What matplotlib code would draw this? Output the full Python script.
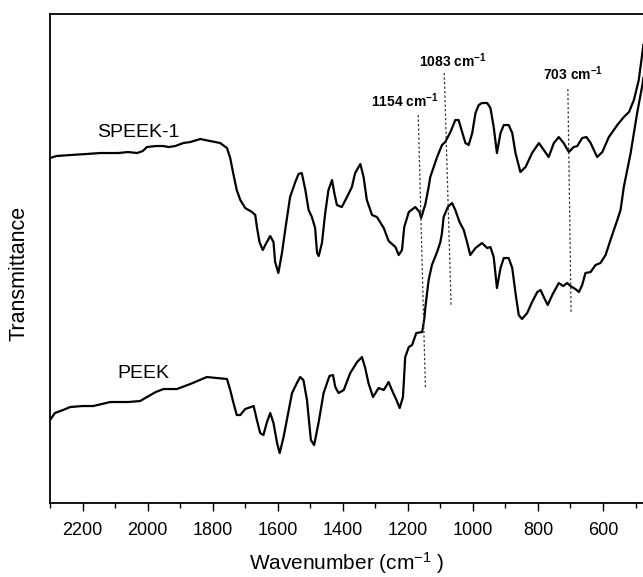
import matplotlib
matplotlib.use('Agg')
import matplotlib.pyplot as plt
from matplotlib.ticker import MultipleLocator, NullLocator

plt.rcParams['font.family'] = ['Liberation Sans', 'DejaVu Sans']
plt.rcParams['mathtext.fontset'] = 'custom'
plt.rcParams['mathtext.rm'] = 'Liberation Sans'
plt.rcParams['mathtext.bf'] = 'Liberation Sans:bold'
plt.rcParams['mathtext.it'] = 'Liberation Sans:italic'
plt.rcParams['mathtext.default'] = 'rm'

# ---------------- data ----------------
speek_wn = [2300, 2280, 2238, 2190, 2146, 2090, 2060, 2032, 2015, 2002, 1975, 1952,
            1935, 1915, 1890, 1869, 1838, 1808, 1777, 1756,
            1746, 1737, 1726, 1715, 1700, 1679, 1669, 1664, 1656, 1646, 1635, 1623,
            1613, 1608, 1598, 1587, 1577, 1562, 1546, 1536, 1526, 1515, 1505, 1495,
            1485, 1479, 1474, 1464, 1454, 1444, 1433, 1426, 1418, 1403, 1387, 1372,
            1362, 1346, 1336, 1326, 1310, 1295, 1274, 1259, 1238, 1228, 1218, 1211,
            1197, 1177, 1164, 1159, 1146, 1136, 1131, 1110, 1095, 1085, 1069, 1054,
            1044, 1033, 1023, 1013, 1002, 992, 982, 972, 956, 946, 936, 926, 915,
            905, 890, 879, 869, 854, 838, 818, 797, 782, 767, 751, 736, 721, 705,
            690, 679, 664, 651, 638, 618, 602, 582, 556, 536, 520, 505, 490, 479, 476]
speek_t = [345, 347, 348, 349, 350, 350, 351, 350, 352, 356, 357, 357,
           356, 357, 360, 361, 364, 362, 360, 355,
           345, 330, 313, 303, 295, 291, 288, 276, 261, 253, 260, 267,
           261, 241, 230, 250, 273, 306, 321, 329, 330, 313, 293, 286,
           275, 250, 247, 260, 290, 313, 323, 310, 298, 296, 306, 316,
           330, 339, 326, 303, 288, 286, 275, 262, 256, 248, 253, 276,
           291, 296, 291, 285, 299, 316, 326, 346, 358, 361, 371, 383,
           383, 371, 360, 358, 370, 390, 398, 400, 400, 395, 376, 350, 370,
           378, 378, 370, 350, 331, 336, 350, 360, 353, 346, 360, 366, 360, 351,
           356, 357, 365, 366, 360, 346, 351, 366, 378, 386, 391, 403, 423, 450, 458]

peek_wn = [2300, 2285, 2260, 2238, 2200, 2167, 2115, 2060, 2023, 2002, 1975, 1951,
           1910, 1869, 1818, 1756,
           1746, 1736, 1726, 1715, 1700, 1674, 1664, 1654, 1644, 1633, 1623, 1613,
           1602, 1594, 1582, 1572, 1556, 1541, 1531, 1521, 1510, 1505, 1498, 1488,
           1474, 1459, 1441, 1430, 1423, 1413, 1397, 1377, 1356, 1341, 1331, 1321,
           1307, 1290, 1274, 1259, 1249, 1235, 1225, 1215, 1208, 1197, 1187, 1174,
           1156, 1149, 1146, 1136, 1126, 1110, 1100, 1095, 1090, 1077, 1064, 1054,
           1041, 1028, 1018, 1008, 992, 972, 956, 946, 936, 926, 915, 905, 890,
           879, 869, 859, 849, 833, 818, 802, 792, 782, 770, 756, 736, 722, 710,
           700, 685, 674, 664, 654, 638, 623, 608, 592, 577, 556, 546, 536, 515,
           495, 479, 476]
peek_t = [83, 90, 93, 96, 97, 97, 101, 101, 102, 106, 111, 114,
          114, 119, 126, 124,
          113, 100, 88, 88, 94, 97, 83, 70, 68, 81, 90, 80,
          60, 50, 66, 83, 110, 120, 126, 123, 103, 86, 63, 58,
          81, 110, 127, 128, 116, 110, 113, 130, 141, 146, 135, 120,
          106, 115, 113, 121, 113, 103, 95, 106, 146, 156, 158, 170,
          171, 185, 196, 223, 238, 251, 261, 270, 286, 296, 300, 293,
          281, 273, 261, 248, 255, 260, 255, 256, 246, 215, 235, 245, 245,
          235, 210, 188, 184, 190, 201, 211, 213, 206, 198, 208, 220, 217, 220,
          217, 214, 211, 218, 230, 231, 238, 240, 248, 263, 283, 293, 316, 350,
          390, 418, 425]

# peak marker lines (dotted)
peak_labels = ['1154', '1083', '703']
marker_top_wn = [1168, 1088, 708]
marker_top_t = [388, 430, 414]
marker_bot_wn = [1146, 1067, 698]
marker_bot_t = [115, 198, 190]
label_wn = [1208, 1063, 691]
label_t = [396, 436, 423]

series_names = ['SPEEK-1', 'PEEK']
series_label_wn = [2028, 2013]
series_label_t = [366, 125]

# ---------------- figure ----------------
fig = plt.figure(figsize=(6.43, 5.77), dpi=100)
ax = fig.add_axes([0.0778, 0.1282, 0.9222, 0.8475])

ax.plot(speek_wn, speek_t, color='black', lw=1.6)
ax.plot(peek_wn, peek_t, color='black', lw=1.6)

for lab, tw, tt, bw, bt, lw_, lt in zip(peak_labels, marker_top_wn, marker_top_t,
                                         marker_bot_wn, marker_bot_t, label_wn, label_t):
    ax.plot([tw, bw], [tt, bt], color='#333333', lw=0.9, linestyle=(0, (1.8, 1.8)))
    ax.text(lw_, lt, lab + r' cm$^{\mathbf{-1}}$', ha='center', va='baseline',
            fontsize=10, fontweight='bold')

for name, wn, t in zip(series_names, series_label_wn, series_label_t):
    ax.text(wn, t, name, ha='center', va='baseline', fontsize=14)

ax.set_xlim(2300, 477)
ax.set_ylim(0, 489)
ax.xaxis.set_major_locator(MultipleLocator(200))
ax.xaxis.set_minor_locator(MultipleLocator(100))
ax.yaxis.set_major_locator(NullLocator())
ax.yaxis.set_minor_locator(NullLocator())
ax.tick_params(axis='x', which='major', direction='out', length=6, width=1.0,
               labelsize=13, pad=8)
ax.tick_params(axis='x', which='minor', direction='out', length=3.5, width=1.0)

for s in ['left', 'bottom', 'top']:
    ax.spines[s].set_linewidth(1.3)
ax.spines['right'].set_visible(False)

ax.set_xlabel(r'Wavenumber (cm$^{-1}$ )', fontsize=15, labelpad=8)
ax.set_ylabel('Transmittance', fontsize=15.5)
ax.yaxis.set_label_coords(-0.035, 0.47)

fig.savefig('out.png', dpi=100)
